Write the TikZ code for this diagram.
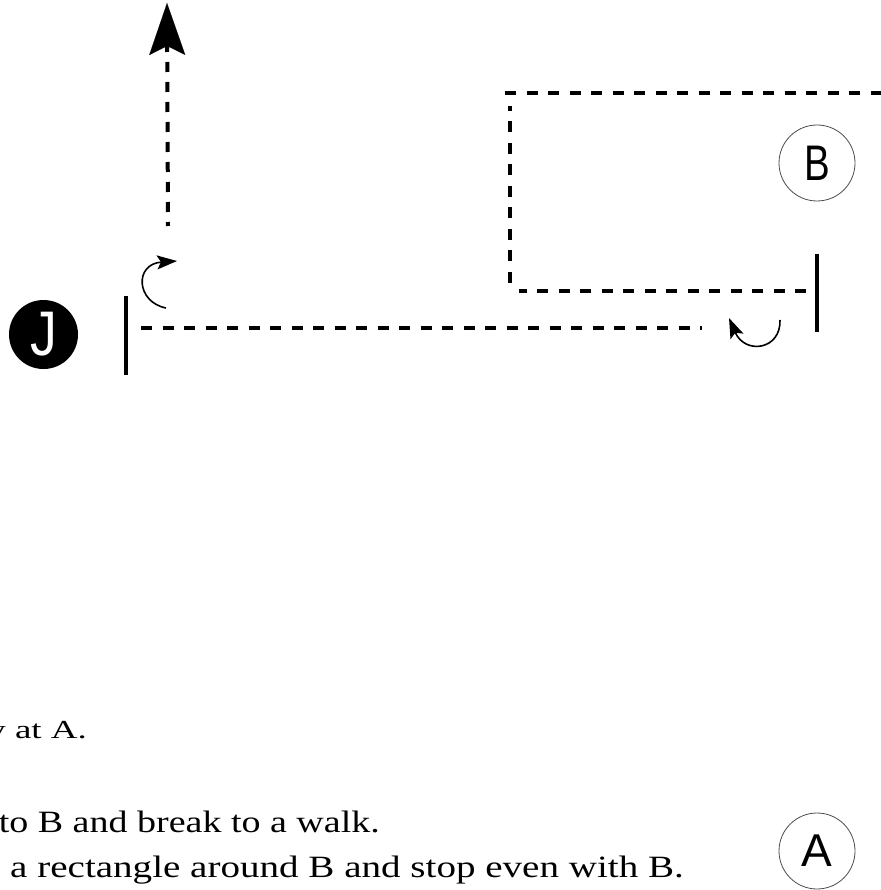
\documentclass[tikz,border=0pt]{standalone}
\usepackage{fontspec}
\setmainfont{Liberation Serif}
\newfontfamily\lsans{Liberation Sans}
\usetikzlibrary{arrows.meta}
\begin{document}
\begin{tikzpicture}[x=1pt,y=-1pt,
  route/.style={line width=4pt,dash pattern=on 11pt off 10.5pt},
  barline/.style={line width=4pt},
  turn/.style={line width=1.6pt,-{Stealth[length=20pt,width=14pt,inset=4pt]}},
  spot/.style={circle,draw=black!70,line width=0.8pt,minimum size=76pt,inner sep=0pt},
  note/.style={inner sep=0pt,anchor=base east}]
\useasboundingbox (0,0) rectangle (880,890);
% players and spots
\node[circle,fill=black,minimum size=69pt,inner sep=0pt] (J) at (43.5,334.5)
  {\color{white}\lsans\fontsize{63}{63}\selectfont\scalebox{0.85}[1]{J}};
\node[spot] (B) at (817,163) {\lsans\fontsize{50}{50}\selectfont\scalebox{0.77}[1]{B}};
\node[spot] (A) at (817,851) {\lsans\fontsize{46}{46}\selectfont A};
% coordinates
\coordinate (barJt) at (126,296);
\coordinate (barJb) at (126,375);
\coordinate (barBt) at (817,254);
\coordinate (barBb) at (817,332);
\coordinate (runS) at (141,328);
\coordinate (runE) at (702,328);
\coordinate (recS) at (806,291);
\coordinate (recBL) at (519,291);
\coordinate (recLb) at (510,283);
\coordinate (recLt) at (510,106);
\coordinate (recTL) at (505,93);
\coordinate (recE) at (885,93);
\coordinate (upS) at (168,226);
\coordinate (upE) at (167,3);
\coordinate (t1s) at (166,308);
\coordinate (t1e) at (177,261);
\coordinate (t2s) at (780,320);
\coordinate (t2e) at (729,318);
% start / stop bars
\draw[barline] (barJt) -- (barJb);
\draw[barline] (barBt) -- (barBb);
% routes
\draw[route] (runS) -- (runE);
\draw[route] (recS) -- (recBL);
\draw[route] (recLb) -- (recLt);
\draw[route] (recTL) -- (recE);
\draw[line width=4pt,dash pattern=on 10pt off 10pt,dash phase=6pt,
  -{Stealth[length=52pt,width=36pt,inset=9pt,line width=0.1pt]}] (upS) -- (upE);
% turns
\draw[turn] (t1s) .. controls (136,302) and (134,264) .. (t1e);
\draw[turn] (t2s) .. controls (781,350) and (745,355) .. (t2e);
% notes
\node[note] (n1) at (87,738) {\fontsize{26}{26}\selectfont\scalebox{1.42}[1]{y at A.}};
\node[note] (n2) at (380,832) {\fontsize{31}{31}\selectfont\scalebox{1.226}[1]{to B and break to a walk.}};
\node[note] (n3) at (684,877) {\fontsize{31}{31}\selectfont\scalebox{1.26}[1]{a rectangle around B and stop even with B.}};
\end{tikzpicture}
\end{document}
